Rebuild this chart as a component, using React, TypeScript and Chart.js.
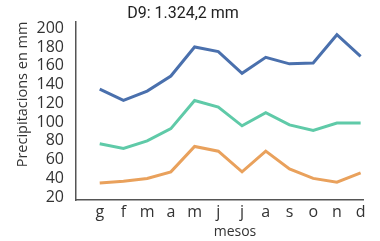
import React, { useEffect, useRef } from "react";
import { Chart, registerables } from "chart.js";

Chart.register(...registerables);

const months = ["g", "f", "m", "a", "m", "j", "j", "a", "s", "o", "n", "d"];
const blueSeries = [135, 123, 133, 149, 180, 175, 152, 169, 162, 163, 193, 170];
const greenSeries = [77, 72, 80, 93, 123, 116, 96, 110, 97, 91, 99, 99];
const orangeSeries = [35, 37, 40, 47, 74, 69, 47, 69, 50, 40, 36, 46];
const yTicks = [20, 40, 60, 80, 100, 120, 140, 160, 180, 200];
const titleText = "D9: 1.324,2 mm";
const xTitleText = "mesos";
const yTitleText = "Precipitacions en mm";

const toPoints = (arr: number[]) => arr.map((v, i) => ({ x: i, y: v }));

const textPlugin = {
  id: "extraText",
  afterDraw(chart: any) {
    const ctx = chart.ctx;
    ctx.save();
    ctx.fillStyle = "#222";
    ctx.font = "16px Roboto";
    ctx.textAlign = "center";
    ctx.textBaseline = "middle";
    ctx.fillText(titleText, 183, 14);
    ctx.fillStyle = "#333";
    ctx.font = "14px 'Open Sans'";
    ctx.fillText(xTitleText, 235, 232);
    ctx.restore();
  },
};

export default function App() {
  const ref = useRef<HTMLCanvasElement>(null);
  useEffect(() => {
    if (!ref.current) return;
    const chart = new Chart(ref.current, {
      type: "line",
      data: {
        datasets: [
          { data: toPoints(blueSeries), borderColor: "#4a70ad", borderWidth: 3, pointRadius: 0, tension: 0 },
          { data: toPoints(greenSeries), borderColor: "#5fcaa8", borderWidth: 3, pointRadius: 0, tension: 0 },
          { data: toPoints(orangeSeries), borderColor: "#e9a15c", borderWidth: 3, pointRadius: 0, tension: 0 },
        ],
      },
      options: {
        responsive: false,
        animation: false,
        layout: { padding: { top: 8, right: 17, bottom: 0, left: 0 } },
        plugins: { legend: { display: false }, tooltip: { enabled: false }, title: { display: false } },
        scales: {
          x: {
            type: "linear",
            min: -1,
            max: 11.1,
            afterBuildTicks: (s: any) => {
              s.ticks = months.map((_, i) => ({ value: i }));
            },
            afterFit: (s: any) => {
              s.height = 41;
            },
            grid: { display: false, drawTicks: false },
            border: { display: true, color: "#555", width: 1.5 },
            ticks: {
              callback: (v: any) => months[v] ?? "",
              color: "#333",
              font: { family: "'Open Sans'", size: 16 },
              padding: 3,
              maxRotation: 0,
              autoSkip: false,
            },
          },
          y: {
            min: 17,
            max: 207,
            afterBuildTicks: (s: any) => {
              s.ticks = yTicks.map((v) => ({ value: v }));
            },
            afterFit: (s: any) => {
              s.width = 76;
            },
            grid: { display: false, drawTicks: false },
            border: { display: true, color: "#555", width: 1.5 },
            ticks: {
              color: "#333",
              font: { family: "'Open Sans'", size: 16 },
              padding: 12,
              autoSkip: false,
            },
            title: {
              display: true,
              text: yTitleText,
              align: "end",
              color: "#333",
              font: { family: "'Open Sans'", size: 14.5 },
              padding: { top: 14, bottom: 0 },
            },
          },
        },
      },
      plugins: [textPlugin],
    });
    return () => chart.destroy();
  }, []);
  return (
    <div style={{ position: "absolute", left: 0, top: 0, width: 380, height: 241, background: "#fff" }}>
      <canvas ref={ref} width={380} height={241} />
    </div>
  );
}
